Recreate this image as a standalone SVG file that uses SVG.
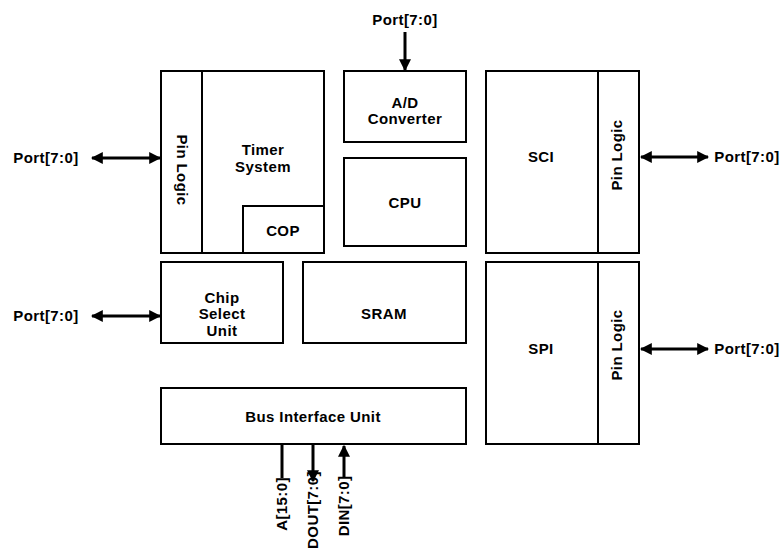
<svg xmlns="http://www.w3.org/2000/svg" width="782" height="548" viewBox="0 0 782 548">
<style>
.box{fill:#fff;stroke:#000;stroke-width:2}
.t{font-family:"Liberation Sans",Arial,sans-serif;font-weight:bold;font-size:15px;fill:#000;text-anchor:middle;letter-spacing:0.4px}
.c{stroke:#000;stroke-width:3;fill:none}
</style>
<defs>
<marker id="ah" viewBox="0 0 10 10" refX="9" refY="5" markerWidth="4" markerHeight="4" orient="auto-start-reverse" markerUnits="strokeWidth">
<path d="M0,0 L10,5 L0,10 Z" fill="#000"/>
</marker>
</defs>
<rect width="782" height="548" fill="#fff"/>
<g id="timer">
<rect class="box" x="161" y="71" width="163" height="182"/>
<text class="t" x="263" y="155">Timer</text>
<text class="t" x="263" y="172">System</text>
</g>
<g id="pinlogic-left">
<rect class="box" x="161" y="71" width="41" height="182"/>
<text class="t" transform="translate(177,170) rotate(90)">Pin Logic</text>
</g>
<g id="cop">
<rect class="box" x="243" y="206" width="81" height="47"/>
<text class="t" x="283" y="236">COP</text>
</g>
<g id="adc">
<rect class="box" x="344" y="71" width="122" height="71"/>
<text class="t" x="405" y="108">A/D</text>
<text class="t" x="405" y="124">Converter</text>
</g>
<g id="cpu">
<rect class="box" x="344" y="158" width="122" height="88"/>
<text class="t" x="405" y="208">CPU</text>
</g>
<g id="sci">
<rect class="box" x="486" y="71" width="112" height="182"/>
<text class="t" x="541" y="162">SCI</text>
</g>
<g id="pinlogic-sci">
<rect class="box" x="598" y="71" width="41" height="182"/>
<text class="t" transform="translate(622,155) rotate(-90)">Pin Logic</text>
</g>
<g id="chipselect">
<rect class="box" x="161" y="262" width="122" height="81"/>
<text class="t" x="222" y="303">Chip</text>
<text class="t" x="222" y="319">Select</text>
<text class="t" x="222" y="336">Unit</text>
</g>
<g id="sram">
<rect class="box" x="303" y="262" width="163" height="81"/>
<text class="t" x="384" y="319">SRAM</text>
</g>
<g id="spi">
<rect class="box" x="486" y="262" width="112" height="182"/>
<text class="t" x="541" y="354">SPI</text>
</g>
<g id="pinlogic-spi">
<rect class="box" x="598" y="262" width="41" height="182"/>
<text class="t" transform="translate(622,345) rotate(-90)">Pin Logic</text>
</g>
<g id="biu">
<rect class="box" x="161" y="388" width="305" height="56"/>
<text class="t" x="313" y="422">Bus Interface Unit</text>
</g>
<g id="labels">
<text class="t" x="405" y="25">Port[7:0]</text>
<text class="t" x="46" y="163">Port[7:0]</text>
<text class="t" x="46" y="321">Port[7:0]</text>
<text class="t" x="747" y="162">Port[7:0]</text>
<text class="t" x="747" y="354">Port[7:0]</text>
<text class="t" transform="translate(287,504) rotate(-90)">A[15:0]</text>
<text class="t" transform="translate(318,510) rotate(-90)">DOUT[7:0]</text>
<text class="t" transform="translate(349,506) rotate(-90)">DIN[7:0]</text>
</g>
<g id="connectors">
<line class="c" x1="405" y1="32" x2="405" y2="70" marker-end="url(#ah)"/>
<line class="c" x1="92" y1="158" x2="160" y2="158" marker-start="url(#ah)" marker-end="url(#ah)"/>
<line class="c" x1="92" y1="316" x2="160" y2="316" marker-start="url(#ah)" marker-end="url(#ah)"/>
<line class="c" x1="641" y1="157" x2="708" y2="157" marker-start="url(#ah)" marker-end="url(#ah)"/>
<line class="c" x1="641" y1="349" x2="708" y2="349" marker-start="url(#ah)" marker-end="url(#ah)"/>
<line class="c" x1="282" y1="445" x2="282" y2="478"/>
<line class="c" x1="313" y1="445" x2="313" y2="481" marker-end="url(#ah)"/>
<line class="c" x1="344" y1="478" x2="344" y2="446" marker-end="url(#ah)"/>
</g>
</svg>
